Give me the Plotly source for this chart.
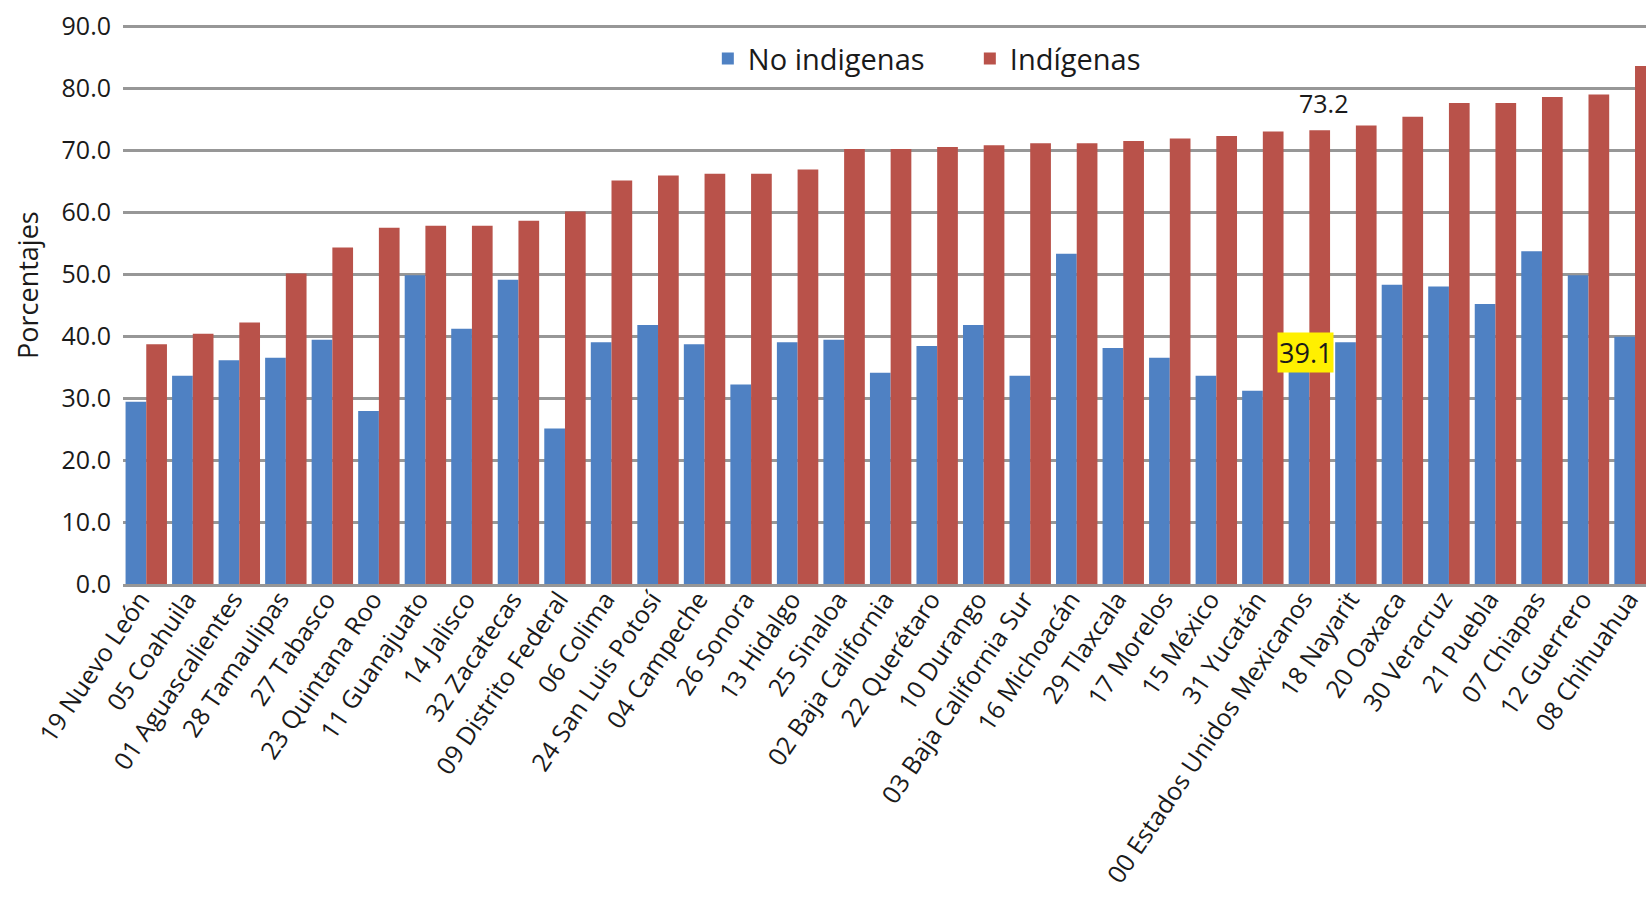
import plotly.graph_objects as go

categories = [
    "19 Nuevo León", "05 Coahuila", "01 Aguascalientes", "28 Tamaulipas", "27 Tabasco",
    "23 Quintana Roo", "11 Guanajuato", "14 Jalisco", "32 Zacatecas", "09 Distrito Federal",
    "06 Colima", "24 San Luis Potosí", "04 Campeche", "26 Sonora", "13 Hidalgo",
    "25 Sinaloa", "02 Baja California", "22 Querétaro", "10 Durango", "03 Baja California Sur",
    "16 Michoacán", "29 Tlaxcala", "17 Morelos", "15 México", "31 Yucatán",
    "00 Estados Unidos Mexicanos", "18 Nayarit", "20 Oaxaca", "30 Veracruz", "21 Puebla",
    "07 Chiapas", "12 Guerrero", "08 Chihuahua",
]

no_indigenas = [
    29.4, 33.6, 36.1, 36.5, 39.4,
    27.9, 49.8, 41.2, 49.1, 25.1,
    39.0, 41.8, 38.7, 32.2, 39.0,
    39.4, 34.1, 38.4, 41.8, 33.6,
    53.3, 38.1, 36.5, 33.6, 31.2,
    39.1, 39.0, 48.3, 48.0, 45.2,
    53.7, 49.8, 39.9,
]

indigenas = [
    38.7, 40.4, 42.2, 50.1, 54.3,
    57.5, 57.8, 57.8, 58.6, 60.1,
    65.1, 65.9, 66.2, 66.2, 66.9,
    70.2, 70.2, 70.5, 70.8, 71.1,
    71.1, 71.5, 71.9, 72.3, 73.0,
    73.2, 74.0, 75.4, 77.6, 77.6,
    78.6, 79.0, 83.6,
]

y_ticks = [0, 10, 20, 30, 40, 50, 60, 70, 80, 90]
y_tick_labels = ["0.0", "10.0", "20.0", "30.0", "40.0", "50.0", "60.0", "70.0", "80.0", "90.0"]

highlight_cat = "00 Estados Unidos Mexicanos"
hi_idx = categories.index(highlight_cat)

FONT = "Open Sans"
TXT = "#1a1a1a"
BLUE = "#4F81C3"
RED = "#B9524A"
GRID = "#979797"

fig = go.Figure()
fig.add_trace(go.Bar(name="No indigenas", x=categories, y=no_indigenas,
                     marker=dict(color=BLUE, line=dict(width=0))))
fig.add_trace(go.Bar(name="Indígenas", x=categories, y=indigenas,
                     marker=dict(color=RED, line=dict(width=0))))

fig.add_annotation(x=highlight_cat, y=indigenas[hi_idx], text=f"{indigenas[hi_idx]:.1f}",
                   showarrow=False, yanchor="middle", xshift=14, yshift=27,
                   font=dict(family=FONT, size=25, color=TXT))
fig.add_annotation(x=highlight_cat, y=no_indigenas[hi_idx], text=f"{no_indigenas[hi_idx]:.1f}",
                   showarrow=False, yanchor="middle", xshift=-4, yshift=-11,
                   bgcolor="#FFF000", borderpad=1,
                   font=dict(family=FONT, size=27, color=TXT))
# y-axis title
fig.add_annotation(xref="paper", yref="paper", x=0, y=0.535, xshift=-95,
                   text="Porcentajes", textangle=-90, showarrow=False,
                   xanchor="center", yanchor="middle",
                   font=dict(family=FONT, size=27, color=TXT))

fig.update_layout(
    width=1646, height=898,
    margin=dict(l=123, r=0, t=25, b=314),
    paper_bgcolor="white", plot_bgcolor="white",
    barmode="group", bargap=0.11, bargroupgap=0,
    font=dict(family=FONT, size=24, color=TXT),
    legend=dict(orientation="h", x=0.384, xanchor="left", y=0.94, yanchor="middle",
                font=dict(family=FONT, size=29, color=TXT),
                bgcolor="rgba(0,0,0,0)", entrywidth=217, itemwidth=30),
    xaxis=dict(range=[-0.5, 32.236], tickangle=-56, showgrid=False,
               showline=True, linecolor=GRID, linewidth=2.5, ticks="",
               automargin=False, ticklabelstandoff=-12, ticklabelshift=-6,
               tickfont=dict(family=FONT, size=25, color=TXT)),
    yaxis=dict(range=[0, 90.2], tickvals=y_ticks, ticktext=y_tick_labels,
               showgrid=True, gridcolor=GRID, gridwidth=2.5, zeroline=False,
               showline=False, ticks="", ticklabelstandoff=11, automargin=False,
               tickfont=dict(family=FONT, size=25, color=TXT)),
)

fig.write_html("out.html", config={"displayModeBar": False},
               post_script="document.body.style.margin='0';")
